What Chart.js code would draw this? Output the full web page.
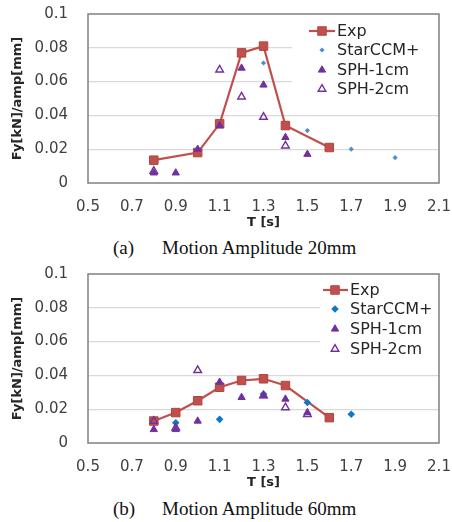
<!DOCTYPE html>
<html>
<head>
<meta charset="utf-8">
<script src="https://cdn.jsdelivr.net/npm/chart.js@4/dist/chart.umd.min.js"></script>
<style>
  body{margin:0;background:#fff;width:452px;height:522px;position:relative;overflow:hidden}
  .box{position:absolute;left:0;width:452px;height:230px}
  .cap{position:absolute;font-family:"Liberation Serif","Times New Roman",serif;font-size:19px;color:#111;white-space:nowrap;line-height:22px}
</style>
</head>
<body>
<div class="box" style="top:0"><canvas id="chA" width="452" height="230"></canvas></div>
<div class="box" style="top:260px"><canvas id="chB" width="452" height="230"></canvas></div>
<div class="cap" style="left:113px;top:237px">(a)</div>
<div class="cap" style="left:162px;top:237px">Motion Amplitude 20mm</div>
<div class="cap" style="left:113px;top:498px">(b)</div>
<div class="cap" style="left:162px;top:498px">Motion Amplitude 60mm</div>
<script>
// tick labels
const xTicks = [0.5,0.7,0.9,1.1,1.3,1.5,1.7,1.9,2.1];
const yTicks = [0,0.02,0.04,0.06,0.08,0.1];
const seriesNames = ['Exp','StarCCM+','SPH-1cm','SPH-2cm'];

// (a) motion amplitude 20mm
const tA_exp  = [0.8,1.0,1.1,1.2,1.3,1.4,1.6];
const a_exp   = [0.0135,0.018,0.035,0.077,0.081,0.034,0.021];
const tA_star = [1.3,1.5,1.7,1.9];
const a_star  = [0.071,0.031,0.020,0.015];
const tA_sph1 = [0.8,0.9,1.0,1.1,1.2,1.3,1.4,1.5];
const a_sph1  = [0.006,0.006,0.020,0.034,0.068,0.058,0.027,0.017];
const tA_sph2 = [0.8,1.1,1.2,1.3,1.4];
const a_sph2  = [0.007,0.067,0.051,0.039,0.022];

// (b) motion amplitude 60mm
const tB_exp  = [0.8,0.9,1.0,1.1,1.2,1.3,1.4,1.6];
const b_exp   = [0.013,0.018,0.025,0.033,0.037,0.038,0.034,0.015];
const tB_star = [0.9,1.1,1.3,1.5,1.7];
const b_star  = [0.012,0.014,0.029,0.024,0.017];
const tB_sph1 = [0.8,0.9,1.0,1.1,1.2,1.3,1.4,1.5];
const b_sph1  = [0.008,0.008,0.013,0.036,0.027,0.028,0.026,0.018];
const tB_sph2 = [0.8,0.9,1.0,1.3,1.4,1.5];
const b_sph2  = [0.013,0.009,0.043,0.028,0.021,0.017];

const RED='#C0504D', PURPLE='#7030A0';
const pts=(xs,ys)=>xs.map((x,i)=>({x:x,y:ys[i]}));

function makeSets(e,s,p1,p2,starColor,starR){
  return [
    {label:seriesNames[0],data:e,showLine:true,borderColor:RED,borderWidth:2.2,
     pointStyle:'rect',pointRadius:6,backgroundColor:RED,pointBorderColor:'#B0443F',pointBorderWidth:1,order:4},
    {label:seriesNames[1],data:s,showLine:false,pointStyle:'rectRot',pointRadius:starR,
     backgroundColor:starColor,borderColor:starColor,pointBorderWidth:0,order:3},
    {label:seriesNames[2],data:p1,showLine:false,pointStyle:'triangle',pointRadius:4.2,
     backgroundColor:PURPLE,borderColor:PURPLE,pointBorderWidth:1,order:2},
    {label:seriesNames[3],data:p2,showLine:false,pointStyle:'triangle',pointRadius:4.4,
     backgroundColor:'rgba(255,255,255,0)',borderColor:PURPLE,pointBorderWidth:1.4,order:1}
  ];
}

// frame, white legend box and legend entries
const deco = {
  id:'deco',
  beforeDatasetsDraw(chart,args,o){
    const ctx=chart.ctx, a=chart.chartArea;
    ctx.save();
    ctx.fillStyle='#fff';
    ctx.fillRect(o.box[0],o.box[1],o.box[2],o.box[3]);
    ctx.strokeStyle='#808080';
    ctx.lineWidth=1.5;
    ctx.strokeRect(a.left,a.top,a.right-a.left,a.bottom-a.top);
    ctx.restore();
  },
  afterDatasetsDraw(chart,args,o){
    const ctx=chart.ctx;
    chart.data.datasets.forEach((ds,i)=>{
      const y=o.ys[i];
      ctx.save();
      if(ds.showLine){
        ctx.strokeStyle=ds.borderColor;ctx.lineWidth=2.2;
        ctx.beginPath();ctx.moveTo(o.line[0],y);ctx.lineTo(o.line[1],y);ctx.stroke();
      }
      ctx.fillStyle=ds.backgroundColor;
      ctx.strokeStyle=ds.pointBorderColor||ds.borderColor;
      ctx.lineWidth=ds.pointBorderWidth;
      Chart.helpers.drawPoint(ctx,{pointStyle:ds.pointStyle,radius:ds.pointRadius,
        borderWidth:ds.pointBorderWidth,rotation:0},o.mx,y);
      ctx.fillStyle='#262626';
      ctx.font='16px "DejaVu Sans"';
      ctx.textBaseline='middle';
      ctx.fillText(ds.label,o.tx,y+1);
      ctx.restore();
    });
  }
};

function build(id,sets,legend){
  new Chart(document.getElementById(id),{
    type:'scatter',
    data:{datasets:sets},
    plugins:[deco],
    options:{
      responsive:false,animation:false,devicePixelRatio:1,
      layout:{padding:{left:0,right:13,top:14,bottom:0}},
      plugins:{legend:{display:false},tooltip:{enabled:false},deco:legend},
      scales:{
        x:{type:'linear',min:0.5,max:2.1,
           afterBuildTicks:s=>{s.ticks=xTicks.map(v=>({value:v}));},
           afterFit:s=>{s.height=47;s.paddingLeft=0;s.paddingRight=0;},
           grid:{display:false,drawTicks:false},border:{display:false},
           ticks:{padding:15,color:'#404040',font:{family:'DejaVu Sans',size:15},callback:v=>v.toFixed(1)},
           title:{display:true,text:'T [s]',color:'#262626',padding:0,font:{family:'DejaVu Sans',size:13,weight:'bold'}}},
        y:{min:0,max:0.1,
           afterBuildTicks:s=>{s.ticks=yTicks.map(v=>({value:v}));},
           afterFit:s=>{s.width=88;s.paddingTop=0;s.paddingBottom=0;},
           grid:{drawTicks:false,color:c=>(c.tick.value>0&&c.tick.value<0.1)?'#d9d9d9':'rgba(0,0,0,0)',lineWidth:1.2},
           border:{display:false},
           ticks:{padding:20,color:'#404040',font:{family:'DejaVu Sans',size:15},callback:v=>String(+v.toFixed(2))},
           title:{display:true,text:'Fy[kN]/amp[mm]',color:'#262626',padding:{top:10,bottom:0},font:{family:'DejaVu Sans',size:13,weight:'bold'}}}
      }
    }
  });
}

build('chA',makeSets(pts(tA_exp,a_exp),pts(tA_star,a_star),pts(tA_sph1,a_sph1),pts(tA_sph2,a_sph2),'#4A8FD6',2.6),
  {box:[292,16,146.5,84],ys:[31,50,70,89],line:[309,335],mx:322,tx:337});
build('chB',makeSets(pts(tB_exp,b_exp),pts(tB_star,b_star),pts(tB_sph1,b_sph1),pts(tB_sph2,b_sph2),'#0E78C8',3.8),
  {box:[320,16,118.5,84],ys:[30,49,69,89],line:[323,348],mx:335,tx:350});
</script>
</body>
</html>
